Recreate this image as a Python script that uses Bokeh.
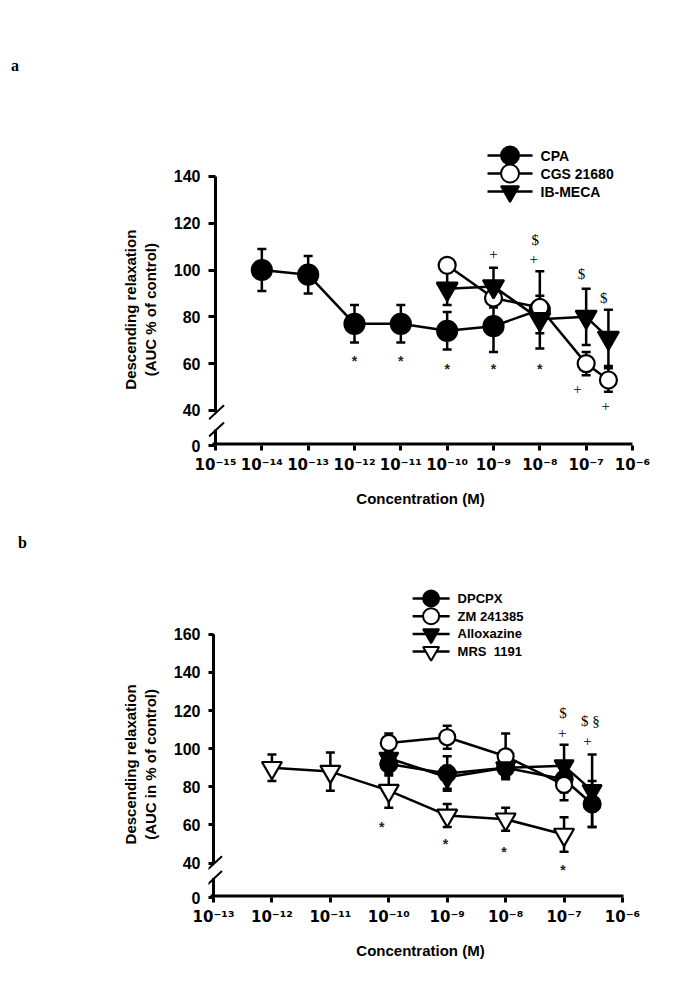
from bokeh.plotting import figure
from bokeh.models import (ColumnDataSource, Whisker, TeeHead, FixedTicker, LinearAxis, Div)
from bokeh.layouts import column
from bokeh.embed import file_html
from bokeh.resources import INLINE
from bokeh.core.properties import value

# ---------------- panel a data ----------------
a_xticks = [-15, -14, -13, -12, -11, -10, -9, -8, -7, -6]
a_xtick_labels = ["10⁻¹⁵", "10⁻¹⁴", "10⁻¹³", "10⁻¹²", "10⁻¹¹", "10⁻¹⁰",
                  "10⁻⁹", "10⁻⁸", "10⁻⁷", "10⁻⁶"]
a_yticks = [0, 40, 60, 80, 100, 120, 140]

cpa_x = [-14, -13, -12, -11, -10, -9, -8]
cpa_y = [100, 98, 77, 77, 74, 76, 83]
cpa_e = [9, 8, 8, 8, 8, 11, 16.5]
cgs_x = [-10, -9, -8, -7, -6.52]
cgs_y = [102, 88, 84, 60, 53]
cgs_e = [3, 4, 5, 5, 5]
ibm_x = [-10, -9, -8, -7, -6.52]
ibm_y = [92, 93, 79, 80, 71]
ibm_e = [7, 8, 6, 12, 12]

a_star_x = [-12, -11, -10, -9, -8]
a_star_y = [63, 63, 59.5, 59.5, 59.5]
a_sym_text = ["+", "+", "+", "+", "$", "$", "$"]
a_sym_x = [-9, -8.13, -7.19, -6.58, -8.1, -7.1, -6.62]
a_sym_y = [107, 104.7, 49.2, 42, 112.8, 98.3, 88]

# ---------------- panel b data ----------------
b_xticks = [-13, -12, -11, -10, -9, -8, -7, -6]
b_xtick_labels = ["10⁻¹³", "10⁻¹²", "10⁻¹¹", "10⁻¹⁰", "10⁻⁹", "10⁻⁸", "10⁻⁷", "10⁻⁶"]
b_yticks = [0, 40, 60, 80, 100, 120, 140, 160]

dpc_x = [-10, -9, -8, -7, -6.52]
dpc_y = [92, 87, 90, 84, 71]
dpc_e = [6, 9, 5, 7, 12]
zm_x = [-10, -9, -8, -7]
zm_y = [103, 106, 96, 81]
zm_e = [5, 6, 12, 8]
alx_x = [-10, -9, -8, -7, -6.52]
alx_y = [95, 85, 90, 91, 78]
alx_e = [5, 6, 5, 11, 19]
mrs_x = [-12, -11, -10, -9, -8, -7]
mrs_y = [90, 88, 78, 65, 63, 55]
mrs_e = [7, 10, 9, 6, 6, 9]

b_star_x = [-10.12, -9.03, -8.03, -7.02]
b_star_y = [61, 52, 48, 38.5]
b_sym_text = ["$", "+", "$ §", "+"]
b_sym_x = [-7.02, -7.03, -6.55, -6.6]
b_sym_y = [118.6, 108.2, 114.4, 104]

FONT = "Liberation Sans"
SUPFONT = "DejaVu Sans"
SERIF = "Liberation Serif"
BL, BR = 208, 45   # shared borders (column aligns frames)
NBSP = "\u00a0"


def style_title(axis, text, standoff):
    axis.axis_label = text
    axis.axis_label_text_font = FONT
    axis.axis_label_text_font_style = "bold"
    axis.axis_label_text_font_size = "15px"
    axis.axis_label_text_color = "black"
    axis.axis_label_standoff = standoff


def make_panel(cfg):
    px, py = cfg["px"], cfg["py"]
    x0, zero = cfg["x0"], cfg["zero"]
    fl, fb = cfg["fl"], cfg["fb"]

    def dx(page_x):
        return x0 + (page_x - fl) / px

    def dy(page_y):
        return zero + (fb - page_y) / py

    p = figure(width=cfg["width"], height=cfg["height"], output_backend="svg",
               toolbar_location=None,
               x_range=(x0, cfg["x1"]), y_range=(zero, cfg["ytop"]),
               min_border_left=BL, min_border_right=BR,
               min_border_top=cfg["bt"], min_border_bottom=cfg["bb"])
    p.outline_line_color = None
    p.xgrid.visible = False
    p.ygrid.visible = False
    p.background_fill_color = "white"

    # x axis
    xa = p.xaxis[0]
    xa.ticker = FixedTicker(ticks=cfg["xticks"])
    xa.major_label_overrides = {t: l for t, l in zip(cfg["xticks"], cfg["xlabels"])}
    xa.axis_line_color = None
    xa.major_tick_line_width = 3
    xa.major_tick_out = 5
    xa.major_tick_in = 0
    xa.minor_tick_line_color = None
    xa.major_label_standoff = 5
    xa.major_label_text_font = SUPFONT
    xa.major_label_text_font_style = "bold"
    xa.major_label_text_font_size = "15px"
    xa.major_label_text_color = "black"
    style_title(xa, "Concentration (M)", 13)

    # x axis line drawn as a glyph so it stops at the last decade
    p.segment(x0=[cfg["xticks"][0] - 3 / px], y0=[zero], x1=[cfg["xticks"][-1] + 1 / px],
              y1=[zero], line_color="black", line_width=6)

    # y axis (line drawn with a break)
    ya = p.yaxis[0]
    yt = [zero if t == 0 else t for t in cfg["yticks"]]
    ya.ticker = FixedTicker(ticks=yt)
    ya.major_label_overrides = {zero: "0"}
    ya.axis_line_color = None
    ya.major_tick_line_width = 3
    ya.major_tick_in = cfg["tick_in"]
    ya.major_tick_out = 0
    ya.minor_tick_line_color = None
    ya.major_label_standoff = 8
    ya.major_label_text_font = FONT
    ya.major_label_text_font_style = "bold"
    ya.major_label_text_font_size = "16px"
    ya.major_label_text_color = "black"
    pad = NBSP * cfg["title_pad"]
    style_title(ya, cfg["ytitle"][1] + pad, 12)

    # outer axis carrying only the first line of the y title
    outer = LinearAxis(ticker=FixedTicker(ticks=[]), axis_line_color=None,
                       major_tick_line_color=None, minor_tick_line_color=None,
                       major_tick_out=0, major_tick_in=0, major_label_standoff=0)
    style_title(outer, cfg["ytitle"][0] + pad, 0)
    p.add_layout(outer, "left")

    ax = cfg["xticks"][0]
    top = cfg["yticks"][-1]
    p.segment(x0=[ax, ax], y0=[zero, cfg["brk_hi"]], x1=[ax, ax],
              y1=[cfg["brk_lo"], top], line_color="black", line_width=3)
    for yb in (cfg["brk_lo"], cfg["brk_hi"]):
        p.segment(x0=[ax - 6.5 / px], y0=[yb - 7 / py], x1=[ax + 8.5 / px],
                  y1=[yb + 7 / py], line_color="black", line_width=2)

    # series
    srcs = []
    for s in cfg["series"]:
        x, y, e = s["x"], s["y"], s["e"]
        src = ColumnDataSource(dict(x=x, y=y, lo=[v - d for v, d in zip(y, e)],
                                    hi=[v + d for v, d in zip(y, e)]))
        srcs.append(src)
        p.line("x", "y", source=src, line_color="black", line_width=2.5)
    for s, src in zip(cfg["series"], srcs):
        p.scatter("x", "y", source=src, marker=s["marker"], size=s["size"],
                  fill_color=s["fill"], line_color="black", line_width=2.2)
    for src in srcs:
        p.add_layout(Whisker(source=src, base="x", upper="hi", lower="lo",
                             line_color="black", line_width=2.5,
                             upper_head=TeeHead(size=9, line_color="black", line_width=2.5),
                             lower_head=TeeHead(size=9, line_color="black", line_width=2.5)))

    # significance marks
    p.text(x=cfg["star_x"], y=cfg["star_y"], text=["*"] * len(cfg["star_x"]),
           text_font=value(FONT), text_font_style="bold", text_font_size="14px",
           text_align="center", text_baseline="middle", y_offset=4, text_color="#222222")
    p.text(x=cfg["sym_x"], y=cfg["sym_y"], text=cfg["sym_text"],
           text_font=value(SERIF), text_font_size="15px",
           text_align="center", text_baseline="middle", text_color="black")

    # legend drawn by hand (line + marker + label)
    lx0, lx1, ly0, pitch = cfg["leg_x0"], cfg["leg_x1"], cfg["leg_y0"], cfg["leg_pitch"]
    for i, s in enumerate(cfg["series"]):
        yy = dy(ly0 + i * pitch)
        p.segment(x0=[dx(lx0)], y0=[yy], x1=[dx(lx1)], y1=[yy],
                  line_color="black", line_width=2.5)
        p.scatter(x=[dx((lx0 + lx1) / 2)], y=[yy], marker=s["marker"], size=cfg["leg_size"],
                  fill_color=s["fill"], line_color="black", line_width=2)
        p.text(x=[dx(lx1 + 8)], y=[yy], text=[s["name"]], text_font=value(FONT),
               text_font_style="bold", text_font_size=cfg["leg_fs"],
               text_align="left", text_baseline="middle", text_color="black")
    return p


def letter_div(letter, height, top, left):
    html = (f'<div style="margin:{top}px 0 0 {left}px; font-family:\'{SERIF}\'; '
            f'font-weight:bold; font-size:16px; line-height:18px; color:black">{letter}</div>')
    return Div(text=html, width=677, height=height, margin=(0, 0, 0, 0))


# page layout: div a (0..80), fig a (80..528), div b (528..568), fig b (568..981)
pxa, pya = 46.33, 2.34
cfg_a = dict(
    px=pxa, py=pya, width=677, height=448, fl=BL, fb=445 - 80,
    x0=-15 - 7 / pxa, x1=-6, zero=25, ytop=25 + 305 / pya,
    bt=60, bb=83, tick_in=7,
    xticks=a_xticks, xlabels=a_xtick_labels, yticks=a_yticks,
    brk_lo=31.8, brk_hi=39.2,
    series=[
        dict(name="CPA", x=cpa_x, y=cpa_y, e=cpa_e, marker="circle", fill="black", size=20),
        dict(name="CGS 21680", x=cgs_x, y=cgs_y, e=cgs_e, marker="circle", fill="white", size=17),
        dict(name="IB-MECA", x=ibm_x, y=ibm_y, e=ibm_e, marker="inverted_triangle", fill="black", size=21),
    ],
    star_x=a_star_x, star_y=a_star_y, sym_x=a_sym_x, sym_y=a_sym_y, sym_text=a_sym_text,
    leg_x0=487, leg_x1=532, leg_y0=155 - 80, leg_pitch=18, leg_size=18, leg_fs="14px",
    ytitle=["Descending relaxation", "(AUC % of control)"], title_pad=8,
)

pxb, pyb = 58.4, 1.908
cfg_b = dict(
    px=pxb, py=pyb, width=677, height=413, fl=BL, fb=897 - 568,
    x0=-13 - 5 / pxb, x1=-6 + 10 / pxb, zero=22, ytop=22 + 312 / pyb,
    bt=17, bb=84, tick_in=5,
    xticks=b_xticks, xlabels=b_xtick_labels, yticks=b_yticks,
    brk_lo=32.2, brk_hi=40,
    series=[
        dict(name="DPCPX", x=dpc_x, y=dpc_y, e=dpc_e, marker="circle", fill="black", size=17),
        dict(name="ZM 241385", x=zm_x, y=zm_y, e=zm_e, marker="circle", fill="white", size=16),
        dict(name="Alloxazine", x=alx_x, y=alx_y, e=alx_e, marker="inverted_triangle", fill="black", size=19),
        dict(name="MRS \u00a01191", x=mrs_x, y=mrs_y, e=mrs_e, marker="inverted_triangle", fill="white", size=20),
    ],
    star_x=b_star_x, star_y=b_star_y, sym_x=b_sym_x, sym_y=b_sym_y, sym_text=b_sym_text,
    leg_x0=412, leg_x1=449, leg_y0=598 - 568, leg_pitch=17.7, leg_size=16, leg_fs="13px",
    ytitle=["Descending relaxation", "(AUC in % of control)"], title_pad=11,
)

pa = make_panel(cfg_a)
pb = make_panel(cfg_b)
layout = column(letter_div("a", 80, 57, 11), pa, letter_div("b", 40, 6, 18), pb)
open("out.html", "w").write(file_html(layout, INLINE))
